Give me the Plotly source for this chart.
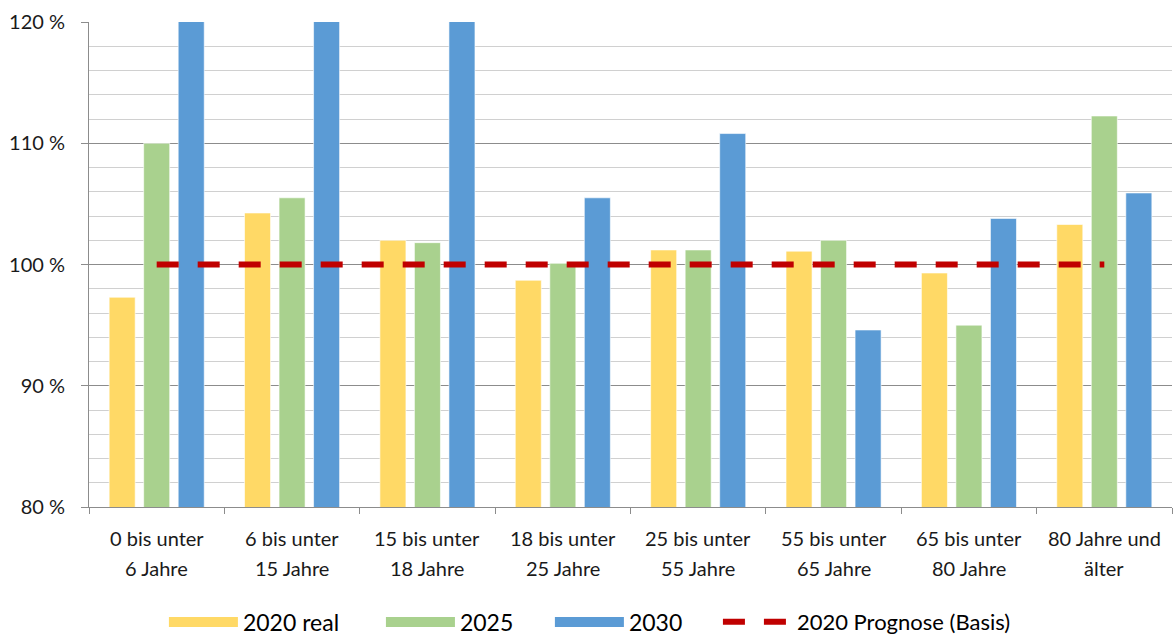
import plotly.graph_objects as go

# Altersgruppen (Kategorien der x-Achse), Zeilenumbruch mit "<br>"
categories = [
    "0 bis unter<br>6 Jahre",
    "6 bis unter<br>15 Jahre",
    "15 bis unter<br>18 Jahre",
    "18 bis unter<br>25 Jahre",
    "25 bis unter<br>55 Jahre",
    "55 bis unter<br>65 Jahre",
    "65 bis unter<br>80 Jahre",
    "80 Jahre und<br>älter",
]

# Werte in Prozent der Prognose 2020 (Basis = 100 %)
real_2020 = [97.3, 104.25, 102.0, 98.7, 101.2, 101.1, 99.3, 103.3]
prog_2025 = [110.0, 105.5, 101.8, 100.1, 101.2, 102.0, 95.0, 112.25]
prog_2030 = [124.0, 123.0, 122.0, 105.5, 110.8, 94.6, 103.8, 105.9]
basis_2020 = [100, 100, 100, 100, 100, 100, 100, 100]

y_ticks = [80, 90, 100, 110, 120]
y_tick_labels = ["80 %", "90 %", "100 %", "110 %", "120 %"]

series = [
    ("2020 real", real_2020, "#FFD966"),
    ("2025", prog_2025, "#A9D18E"),
    ("2030", prog_2030, "#5B9BD5"),
]
basis_name = "2020 Prognose (Basis)"

# linke Kante jedes Legendeneintrags (Anteil der Seitenbreite)
legend_x = [0.1395, 0.3242, 0.4680, 0.6110]
legend_font_sizes = [23, 23, 23, 22]

FONT = "Lato"
RED = "#C00000"
bar_line = dict(color="rgba(255,255,255,0.6)", width=1)
basis_line = dict(color=RED, width=6, dash="22px,19px")

fig = go.Figure()
for name, values, color in series:
    fig.add_trace(go.Bar(x=categories, y=values, name=name, legendgroup=name,
                         showlegend=False, marker=dict(color=color, line=bar_line)))
fig.add_trace(go.Scatter(x=categories, y=basis_2020, name=basis_name,
                         mode="lines", showlegend=False, legendgroup="basis",
                         line=basis_line))

# Legendeneinträge: breite Farbbalken bzw. gestrichelte Linie, je eine eigene Legende
legend_ids = ["legend", "legend2", "legend3", "legend4"]
for (name, values, color), lid in zip(series, legend_ids):
    fig.add_trace(go.Scatter(x=[None], y=[None], name=name, legendgroup=name,
                             legend=lid, mode="lines",
                             line=dict(color=color, width=15)))
fig.add_trace(go.Scatter(x=[None], y=[None], name=basis_name, legendgroup="basis",
                         legend=legend_ids[3], mode="lines", line=basis_line))

# Zweizeilige Kategorienbeschriftung unter der x-Achse
for cat in categories:
    first, second = cat.split("<br>")
    for text, shift in ((first, -31), (second, -61)):
        fig.add_annotation(x=cat, xref="x", y=0, yref="paper", text=text,
                           showarrow=False, yanchor="middle", yshift=shift,
                           font=dict(family=FONT, size=20, color="#1a1a1a"))

legend_style = dict(orientation="h", xref="container", xanchor="left",
                    yref="container", y=0.0266, yanchor="middle",
                    itemwidth=69, bgcolor="rgba(0,0,0,0)")

fig.update_layout(
    width=1175, height=639,
    margin=dict(l=89, r=3, t=22, b=132),
    paper_bgcolor="white", plot_bgcolor="white",
    barmode="group", bargap=0.235, bargroupgap=0.246,
    font=dict(family=FONT, size=20, color="#1a1a1a"),
    showlegend=True,
    **{lid: dict(legend_style, x=lx, font=dict(size=fs, color="#000000"))
       for lid, lx, fs in zip(legend_ids, legend_x, legend_font_sizes)},
)

fig.update_yaxes(
    range=[80, 120], tickmode="array", tickvals=y_ticks, ticktext=y_tick_labels,
    showgrid=True, gridcolor="#8c8c8c", gridwidth=1,
    minor=dict(dtick=2, showgrid=True, gridcolor="#d0d0d0", gridwidth=1.3),
    showline=True, linecolor="#8c8c8c", linewidth=1,
    ticks="outside", ticklen=7, tickcolor="#8c8c8c", ticklabelstandoff=12,
    zeroline=False, tickfont=dict(size=20),
)
fig.update_xaxes(
    showline=True, linecolor="#8c8c8c", linewidth=1,
    ticks="outside", tickson="boundaries", ticklen=6, tickcolor="#8c8c8c",
    showgrid=False, showticklabels=False,
)

fig.write_html("out.html")
